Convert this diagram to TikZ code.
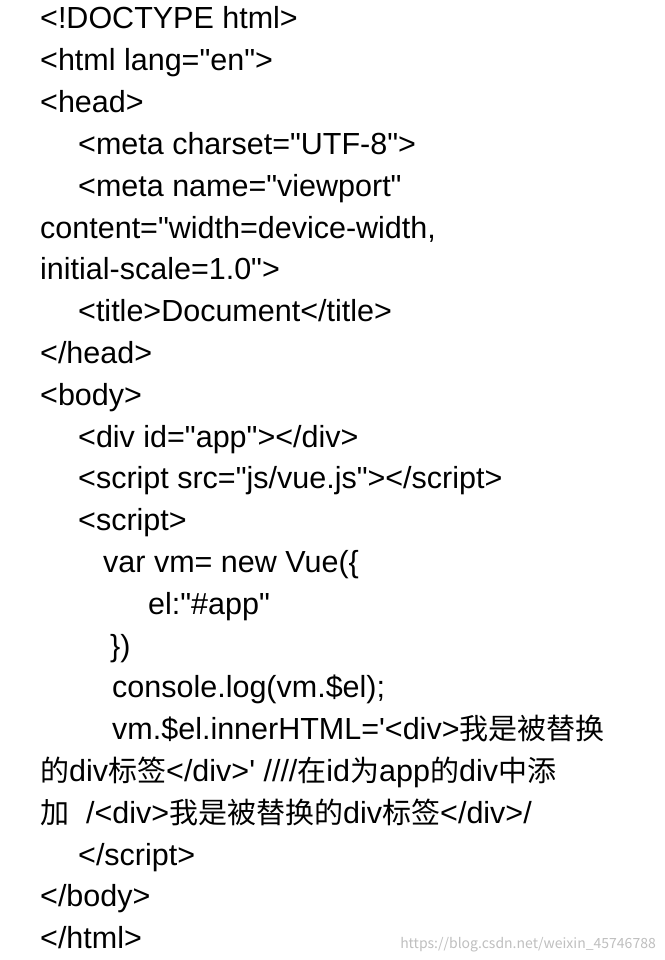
\documentclass[tikz,border=0pt]{standalone}
\usepackage{fontspec}
\newfontfamily\code{Liberation Sans}
\newfontfamily\cjk{Noto Sans CJK SC}
\newcommand\zh[1]{{\cjk\fontsize{29}{30}\selectfont #1}}
\begin{document}
\begin{tikzpicture}[x=1pt,y=-1pt,ln/.style={anchor=base west,inner sep=0pt,font=\code\fontsize{30.5}{32}\selectfont}]
\useasboundingbox[fill=white] (0,0) rectangle (664,960);
\node[ln] (l0) at (40,{29+41.8*0}) {<!DOCTYPE html>};
\node[ln] (l1) at (40,{29+41.8*1}) {<html lang="en">};
\node[ln] (l2) at (40,{29+41.8*2}) {<head>};
\node[ln] (l3) at (78,{29+41.8*3}) {<meta charset="UTF-8">};
\node[ln] (l4) at (78,{29+41.8*4}) {<meta name="viewport"};
\node[ln] (l5) at (40,{29+41.8*5}) {content="width=device-width,};
\node[ln] (l6) at (40,{29+41.8*6}) {initial-scale=1.0">};
\node[ln] (l7) at (78,{29+41.8*7}) {<title>Document</title>};
\node[ln] (l8) at (40,{29+41.8*8}) {</head>};
\node[ln] (l9) at (40,{29+41.8*9}) {<body>};
\node[ln] (l10) at (78,{29+41.8*10}) {<div id="app"></div>};
\node[ln] (l11) at (78,{29+41.8*11}) {<script src="js/vue.js"></script>};
\node[ln] (l12) at (78,{29+41.8*12}) {<script>};
\node[ln] (l13) at (103,{29+41.8*13}) {var vm= new Vue(\{};
\node[ln] (l14) at (148,{29+41.8*14}) {el:"\#app"};
\node[ln] (l15) at (110,{29+41.8*15}) {\})};
\node[ln] (l16) at (112,{29+41.8*16}) {console.log(vm.\$el);};
\node[ln] (l17) at (112,{29+41.8*17}) {vm.\$el.innerHTML='<div>\zh{我是被替换}};
\node[ln] (l18) at (40,{29+41.8*18}) {\zh{的}div\zh{标签}</div>' ////\zh{在}id\zh{为}app\zh{的}div\zh{中添}};
\node[ln] (l19) at (40,{29+41.8*19}) {\zh{加}\ \ /<div>\zh{我是被替换的}div\zh{标签}</div>/};
\node[ln] (l20) at (78,{29+41.8*20}) {</script>};
\node[ln] (l21) at (40,{29+41.8*21}) {</body>};
\node[ln] (l22) at (40,{29+41.8*22}) {</html>};
\node[anchor=base east,inner sep=0pt,text=black!25,font=\cjk\fontsize{14}{16}\selectfont] (wm) at (656,948) {https://blog.csdn.net/weixin\_45746788};
\end{tikzpicture}
\end{document}
